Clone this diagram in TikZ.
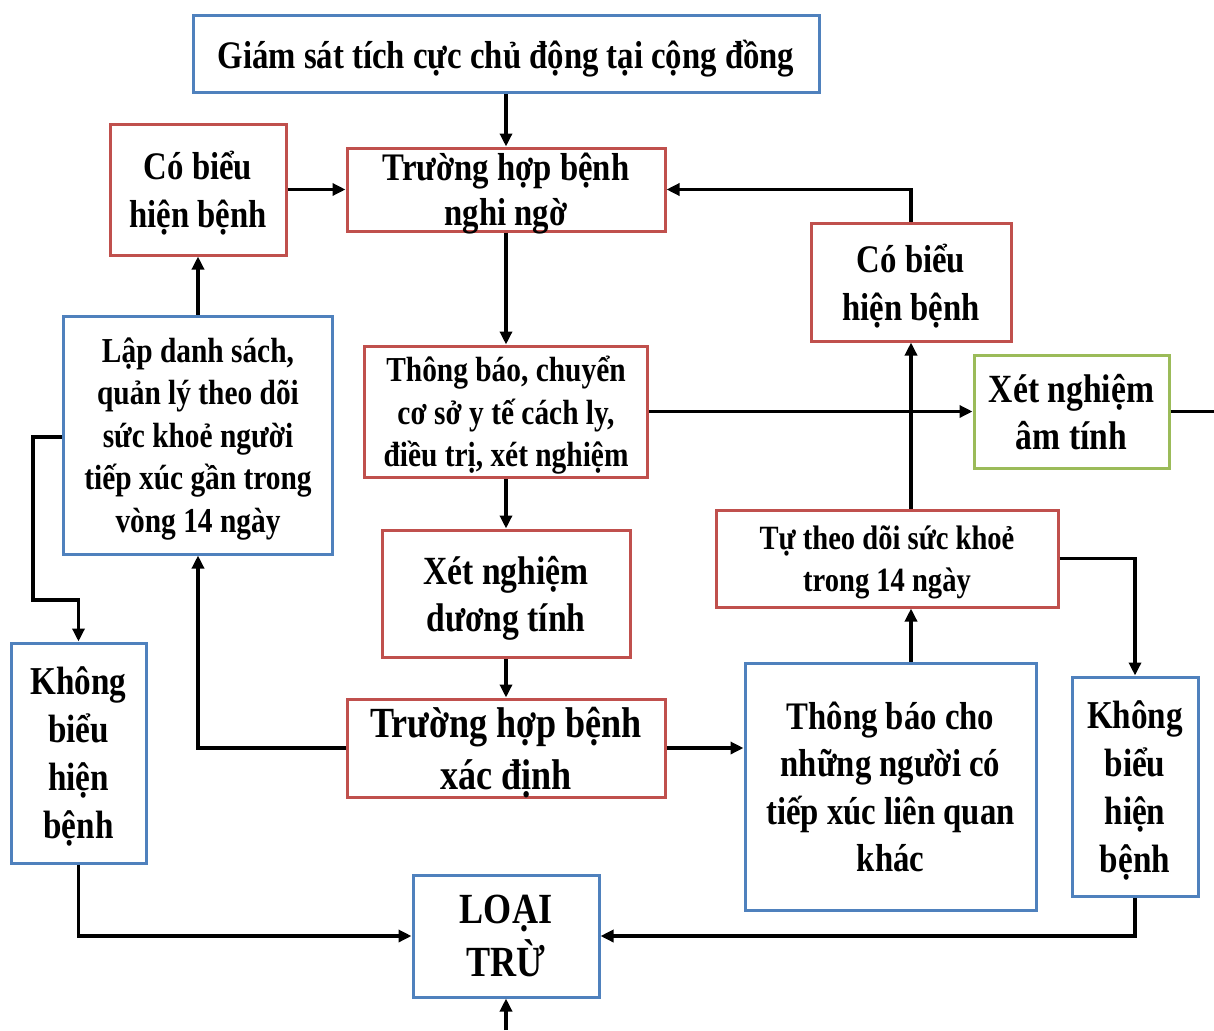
\documentclass[tikz,border=0pt]{standalone}
\usepackage{fontspec}
\setmainfont{Liberation Serif}[FakeStretch=0.84]
\usetikzlibrary{arrows.meta}
\definecolor{bblue}{HTML}{4F81BD}
\definecolor{bred}{HTML}{C0504D}
\definecolor{bgreen}{HTML}{9BBB59}
\newcommand{\fs}[2]{\fontsize{#1}{#2}\selectfont\bfseries}
\tikzset{
  box/.style={rectangle, line width=3pt, fill=white, inner sep=0pt, align=center, text depth=0pt},
  bluebox/.style={box, draw=bblue},
  redbox/.style={box, draw=bred},
  greenbox/.style={box, draw=bgreen},
  conn/.style={line width=3.8pt, -{Triangle[length=13pt,width=12pt]}},
  plain/.style={line width=3.8pt},
}
\begin{document}
\begin{tikzpicture}[x={(1pt,0)}, y={(0,-1pt)}]
\useasboundingbox (0,0) rectangle (1214,1030);
% nodes
\node[bluebox, minimum width=626pt, minimum height=77pt, font=\fs{39}{47}] (top) at (506,54.5) {Giám sát tích cực chủ động tại cộng đồng};
\node[redbox, minimum width=176pt, minimum height=131pt, font=\fs{39}{48}] (cb1) at (198,189.5) {Có biểu\\hiện bệnh};
\node[redbox, minimum width=318pt, minimum height=83pt, font=\fs{39}{45}] (nn) at (506,189.5) {Trường hợp bệnh\\nghi ngờ};
\node[redbox, minimum width=200pt, minimum height=118pt, font=\fs{39}{48}] (cb2) at (911,282) {Có biểu\\hiện bệnh};
\node[bluebox, minimum width=269pt, minimum height=238pt, font=\fs{35}{42.5}] (ld) at (198,435) {Lập danh sách,\\quản lý theo dõi\\sức khoẻ người\\tiếp xúc gần trong\\vòng 14 ngày};
\node[redbox, minimum width=283pt, minimum height=131pt, font=\fs{35}{42.5}] (tbc) at (506,411.5) {Thông báo, chuyển\\cơ sở y tế cách ly,\\điều trị, xét nghiệm};
\node[greenbox, minimum width=195pt, minimum height=113pt, font=\fs{40}{47}] (am) at (1071.5,411.5) {Xét nghiệm\\âm tính};
\node[redbox, minimum width=248pt, minimum height=127pt, font=\fs{40}{47}] (dt) at (506,593.5) {Xét nghiệm\\dương tính};
\node[redbox, minimum width=342pt, minimum height=97pt, font=\fs{34}{42}] (td) at (887,558.5) {Tự theo dõi sức khoẻ\\trong 14 ngày};
\node[bluebox, minimum width=135pt, minimum height=220pt, font=\fs{39.5}{48}] (kl) at (78.5,753) {Không\\biểu\\hiện\\bệnh};
\node[redbox, minimum width=318pt, minimum height=98pt, font=\fs{43}{52}] (xd) at (506,748) {Trường hợp bệnh\\xác định};
\node[bluebox, minimum width=291pt, minimum height=247pt, font=\fs{39}{47.5}] (tbk) at (890.5,786.5) {Thông báo cho\\những người có\\tiếp xúc liên quan\\khác};
\node[bluebox, minimum width=126pt, minimum height=219pt, font=\fs{39.5}{48}] (kr) at (1135,786.5) {Không\\biểu\\hiện\\bệnh};
\node[bluebox, minimum width=186pt, minimum height=122pt, font=\fs{43}{53}] (lt) at (506,936) {LOẠI\\TRỪ};
% free ends
\coordinate (botend) at (506,1030);
\coordinate (rend) at (1214,411.5);
\coordinate (lbend1) at (33,437);
\coordinate (lbend2) at (33,600);
% connectors
\draw[conn] (top.south) -- (nn.north);
\draw[conn] (cb1.east) -- (nn.west);
\draw[conn] (ld.north) -- (cb1.south);
\draw[conn] (nn.south) -- (tbc.north);
\draw[conn] (cb2.north) |- (nn.east);
\draw[conn] (tbc.east) -- (am.west);
\draw[plain] (am.east) -- (rend);
\draw[conn] (td.north -| cb2.south) -- (cb2.south);
\draw[conn] (tbc.south) -- (dt.north);
\draw[conn] (dt.south) -- (xd.north);
\draw[conn] (xd.west) -| (ld.south);
\draw[conn] (xd.east) -- (xd.east -| tbk.west);
\draw[conn] (tbk.north -| cb2.south) -- (td.south -| cb2.south);
\draw[conn] (td.east) -| (kr.north);
\draw[conn] (ld.west |- lbend1) -- (lbend1) -- (lbend2) -| (kl.north);
\draw[conn] (kl.south) |- (lt.west);
\draw[conn] (kr.south) |- (lt.east);
\draw[conn] (botend) -- (lt.south);
\end{tikzpicture}
\end{document}
